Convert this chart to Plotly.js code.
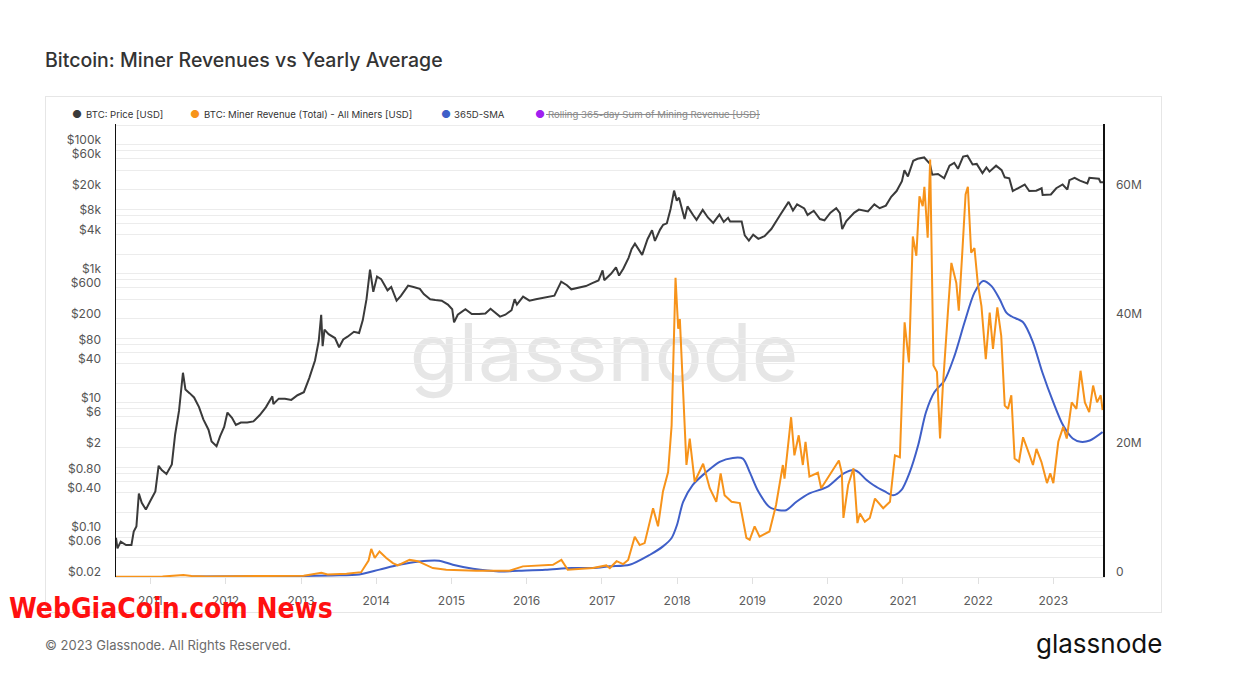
<!DOCTYPE html>
<html><head><meta charset="utf-8">
<script src="https://cdn.plot.ly/plotly-3.0.1.min.js"></script>
<style>
html,body{margin:0;padding:0;background:#fff;}
#wrap{position:relative;width:1238px;height:689px;overflow:hidden;background:#fff;}
#box{position:absolute;left:45px;top:96px;width:1117px;height:517px;border:1px solid #e6e6e6;box-sizing:border-box;}
#wm{position:absolute;left:604px;top:352px;transform:translate(-50%,-50%);font-family:Inter,'Open Sans',sans-serif;font-size:80px;color:#e6e6e6;line-height:1;white-space:nowrap;}
#chart{position:absolute;left:0;top:0;width:1238px;height:689px;}
</style></head>
<body><div id="wrap"><div id="box"></div><div id="wm">glassnode</div><div id="chart"></div></div>
<script>
// ---- BTC price (USD, log axis) ----
const priceDates = ['2010-07-18','2010-07-25','2010-08-10','2010-09-05','2010-10-01','2010-10-12','2010-10-25','2010-11-06','2010-11-20','2010-12-10',
'2011-01-01','2011-01-25','2011-02-10','2011-02-25','2011-03-20','2011-04-15','2011-05-01','2011-05-20','2011-06-08','2011-06-20','2011-07-10','2011-08-01','2011-08-25','2011-09-15','2011-10-10','2011-10-25','2011-11-18','2011-12-05','2011-12-25',
'2012-01-10','2012-02-01','2012-02-20','2012-03-15','2012-04-15','2012-05-15','2012-06-15','2012-07-15','2012-08-15','2012-08-20','2012-09-15','2012-10-15','2012-11-15','2012-12-15',
'2013-01-15','2013-02-10','2013-03-10','2013-03-28','2013-04-09','2013-04-16','2013-04-25','2013-05-15','2013-06-15','2013-07-05','2013-07-25','2013-08-15','2013-09-15','2013-10-10','2013-10-28','2013-11-15','2013-12-02','2013-12-18',
'2014-01-05','2014-01-25','2014-02-25','2014-03-15','2014-04-10','2014-05-01','2014-06-05','2014-07-01','2014-08-01','2014-08-20','2014-09-20','2014-10-15','2014-11-15','2014-12-15',
'2015-01-05','2015-01-14','2015-02-01','2015-03-10','2015-04-10','2015-05-15','2015-06-15','2015-07-10','2015-08-25','2015-09-20','2015-10-20','2015-11-04','2015-11-15','2015-12-15',
'2016-01-15','2016-02-15','2016-03-15','2016-04-15','2016-05-15','2016-06-17','2016-07-15','2016-08-05','2016-09-15','2016-10-15','2016-11-15','2016-12-15',
'2017-01-04','2017-01-12','2017-02-15','2017-03-10','2017-03-25','2017-04-15','2017-05-10','2017-05-25','2017-06-10','2017-07-15','2017-08-10','2017-09-01','2017-09-15','2017-10-10','2017-10-25','2017-11-12','2017-11-30','2017-12-17','2017-12-30',
'2018-01-10','2018-02-06','2018-02-20','2018-03-20','2018-04-05','2018-05-05','2018-05-30','2018-06-25','2018-07-25','2018-08-15','2018-09-05','2018-09-15','2018-10-15','2018-11-10','2018-11-25','2018-12-15',
'2019-01-05','2019-01-30','2019-03-01','2019-04-03','2019-05-15','2019-06-26','2019-07-17','2019-08-06','2019-09-10','2019-09-26','2019-10-26','2019-11-25','2019-12-17',
'2020-01-15','2020-02-12','2020-03-01','2020-03-12','2020-04-01','2020-05-10','2020-06-01','2020-07-15','2020-08-15','2020-09-10','2020-10-10','2020-11-05','2020-12-01','2020-12-27',
'2021-01-08','2021-01-25','2021-02-20','2021-03-13','2021-04-14','2021-05-12','2021-05-23','2021-06-20','2021-07-20','2021-08-15','2021-09-07','2021-09-25','2021-10-20','2021-11-10','2021-12-05','2021-12-25',
'2022-01-22','2022-02-10','2022-02-25','2022-03-29','2022-04-25','2022-05-10','2022-06-01','2022-06-18','2022-07-10','2022-08-15','2022-09-06','2022-10-10','2022-11-05','2022-11-10','2022-12-20',
'2023-01-15','2023-02-15','2023-03-10','2023-03-20','2023-04-14','2023-05-10','2023-06-15','2023-06-25','2023-07-15','2023-08-10','2023-08-18','2023-08-30'];
const priceUSD = [0.08,0.055,0.07,0.062,0.062,0.10,0.12,0.39,0.28,0.22,
0.30,0.42,1.05,0.90,0.78,1.1,3.2,7.5,29,16,14,12,8.5,5.5,3.8,2.5,2.1,3.0,4.2,
7.0,5.8,4.5,4.9,4.9,5.1,6.4,8.5,12.5,9.5,11.5,11.5,11,13,
14.5,24,45,90,230,75,135,115,100,72,95,105,125,120,190,400,1150,520,
900,820,550,620,380,450,650,620,580,480,400,390,380,330,
280,175,230,280,235,235,240,285,215,230,270,400,330,440,
380,400,415,430,455,750,660,570,610,640,710,780,
1120,790,1000,1250,930,1200,1750,2400,2900,1950,3400,4700,3200,4800,5700,6000,10000,19300,13500,
15000,7000,11000,8000,6800,9700,7400,6100,8200,6300,7300,6400,6400,6400,3900,3250,
4000,3450,3800,4900,8000,12900,9500,11800,10200,8100,9400,7000,6700,
8800,10300,8600,4900,6500,8800,9800,9200,11800,10300,11300,15500,19000,27000,
40000,32000,56000,60000,63000,50000,34000,35000,30000,47000,52000,42000,65000,67000,49000,50000,
36000,44000,38000,47000,40000,31000,30000,19000,21000,24000,19000,19200,21000,16500,16800,
21000,24000,20000,28000,30500,27500,25000,30500,30300,29500,26000,26000];

// ---- Miner revenue, total, all miners (USD millions) ----
const revDates = ['2010-07-18','2011-03-01','2011-06-10','2011-07-20','2011-10-01','2012-06-01','2012-11-01','2013-01-15','2013-04-10','2013-05-10','2013-08-10','2013-10-20','2013-11-25','2013-12-08','2013-12-25',
'2014-01-17','2014-02-19','2014-03-23','2014-04-16','2014-06-12','2014-07-22','2014-09-01','2014-10-03','2014-12-07','2015-05-01','2015-10-10','2015-12-14','2016-05-08','2016-06-18','2016-07-19','2016-11-18',
'2017-01-22','2017-02-08','2017-03-13','2017-04-14','2017-05-08','2017-06-09','2017-07-03','2017-07-27','2017-09-06','2017-09-30','2017-10-24','2017-11-18','2017-12-05','2017-12-24',
'2018-01-06','2018-01-14','2018-01-30','2018-02-15','2018-03-03','2018-03-27','2018-05-07','2018-06-08','2018-07-10','2018-07-31','2018-08-19','2018-09-22','2018-11-01','2018-12-03','2018-12-19',
'2019-01-12','2019-02-05','2019-03-25','2019-04-26','2019-05-29','2019-06-06','2019-07-08','2019-07-24','2019-08-14','2019-09-03','2019-09-16','2019-10-05','2019-11-15','2019-12-01',
'2020-01-20','2020-02-25','2020-03-10','2020-03-18','2020-04-10','2020-05-06','2020-05-25','2020-06-06','2020-06-30','2020-07-24','2020-08-18','2020-09-27','2020-10-30','2020-11-23','2020-12-17',
'2021-01-09','2021-01-30','2021-02-18','2021-03-07','2021-03-22','2021-04-07','2021-04-15','2021-05-01','2021-05-13','2021-05-29','2021-06-15','2021-06-30','2021-07-13','2021-08-07','2021-08-24','2021-09-17','2021-09-29','2021-10-16','2021-11-01','2021-11-12','2021-11-28','2021-12-14','2021-12-30',
'2022-01-17','2022-02-07','2022-02-26','2022-03-14','2022-04-04','2022-04-23','2022-05-10','2022-05-26','2022-06-11','2022-06-27','2022-07-18','2022-08-07','2022-09-08','2022-09-24','2022-10-11','2022-11-04','2022-12-01','2022-12-17',
'2023-01-01','2023-01-25','2023-02-18','2023-03-07','2023-03-31','2023-04-23','2023-05-13','2023-06-03','2023-06-24','2023-07-13','2023-08-01','2023-08-19','2023-08-28'];
const revMillions = [0.01,0.03,0.25,0.12,0.05,0.06,0.1,0.15,0.6,0.35,0.45,0.7,2.5,4.3,2.9,
3.9,2.9,2.1,1.75,2.6,2.4,1.75,1.34,1.08,0.93,0.93,1.6,1.85,2.6,1.08,1.34,
1.75,1.34,2.4,1.96,2.6,6.2,4.9,5.2,10.6,7.8,13.2,16.2,23.4,46.3,
38.4,39.9,28.6,17.3,21.4,14.7,17.5,13.7,11.6,16.0,12.6,11.6,11.4,6.0,5.7,
7.8,6.2,7.0,11.1,17.3,15.2,24.7,18.8,21.9,17.3,20.9,15.5,16.1,13.7,
16.1,18.0,16.1,9.1,14.2,16.8,8.3,9.8,8.5,9.1,12.1,10.6,11.6,18.8,18.5,
39.4,33.2,52.7,49.7,58.9,57.4,60.4,52.5,64.6,32.7,31.7,21.4,29.1,40.9,48.6,45.5,41.2,50.2,59.2,60.4,50.2,50.9,45.5,
41.9,33.7,40.9,35.3,41.7,37.3,26.5,26.0,28.1,18.3,17.8,21.6,18.8,17.3,19.8,17.8,14.5,16.0,
14.5,20.9,23.2,21.4,27.0,26.0,31.9,27.0,25.5,29.6,27.0,28.1,25.8];

// ---- 365D-SMA of miner revenue (USD millions) ----
const smaDates = ['2011-07-18','2012-06-01','2013-01-01','2013-06-01','2013-10-11','2014-01-17','2014-04-22','2014-07-30','2014-11-02','2015-01-08','2015-04-16','2015-08-20','2015-11-24','2016-04-01','2016-08-07','2016-11-18',
'2017-02-08','2017-05-15','2017-08-22','2017-10-24','2017-12-05','2017-12-31','2018-01-30','2018-03-17','2018-05-22','2018-07-26','2018-09-28','2018-11-16','2018-12-19',
'2019-01-30','2019-03-25','2019-05-10','2019-06-14','2019-08-03','2019-10-05','2019-12-30','2020-03-20','2020-05-13','2020-06-06','2020-07-07','2020-08-10','2020-10-05','2020-11-14','2020-12-24',
'2021-02-03','2021-03-16','2021-04-23','2021-06-03','2021-07-22','2021-09-08','2021-10-27','2021-12-14','2022-01-25','2022-03-07','2022-04-15','2022-05-18','2022-06-13','2022-08-07','2022-09-24','2022-11-08',
'2023-01-01','2023-02-18','2023-04-05','2023-05-13','2023-06-27','2023-08-28'];
const smaMillions = [0.03,0.07,0.1,0.2,0.35,1.1,1.85,2.36,2.47,1.85,1.23,0.82,0.93,1.08,1.34,1.34,
1.6,1.85,3.4,4.7,6.0,8.0,11.6,14.2,16.2,17.8,18.4,18.3,16.2,
13.2,10.8,10.3,10.3,11.6,12.9,13.9,16.0,16.5,16.0,15.0,14.2,13.2,12.6,13.4,
16.2,20.4,25.5,28.6,30.4,34.2,39.4,44.0,45.8,45.0,43.0,40.9,40.3,39.4,36.3,31.7,
27.0,23.4,21.4,20.9,21.1,22.4];

// ---- Axis ticks ----
const priceGridVals = [0.02,0.04,0.06,0.08,0.1,0.2,0.4,0.6,0.8,1,2,4,6,8,10,20,40,60,80,100,200,400,600,800,1000,2000,4000,6000,8000,10000,20000,40000,60000,80000,100000,200000];
const priceGridText = ['$0.02','','$0.06','','$0.10','','$0.40','','$0.80','','$2','','$6','','$10','','$40','','$80','','$200','','$600','','$1k','','$4k','','$8k','','$20k','','$60k','','$100k',''];
const revTickVals = [0,20,40,60];
const revTickText = ['0','20M','40M','60M'];
const yearTickVals = ['2011-01-01','2012-01-01','2013-01-01','2014-01-01','2015-01-01','2016-01-01','2017-01-01','2018-01-01','2019-01-01','2020-01-01','2021-01-01','2022-01-01','2023-01-01'];
const yearTickText = ['2011','2012','2013','2014','2015','2016','2017','2018','2019','2020','2021','2022','2023'];

// ---- Legend ----
const legendNames = ['BTC: Price [USD]','BTC: Miner Revenue (Total) - All Miners [USD]','365D-SMA','Rolling 365-day Sum of Mining Revenue [USD]'];
const legendColors = ['#3a3a3a','#f7931a','#3f5fc8','#a020f0'];

const L = 116, R = 1103, T = 124, B = 577;
const PX = x => (x - L) / (R - L);
const PY = y => (B - y) / (B - T);
const FONT = 'Inter, "Open Sans", sans-serif';

const traces = [
  {x: priceDates, y: priceUSD, type: 'scatter', mode: 'lines', name: legendNames[0], yaxis: 'y',
   line: {color: legendColors[0], width: 2}, hoverinfo: 'skip'},
  {x: smaDates, y: smaMillions, type: 'scatter', mode: 'lines', name: legendNames[2], yaxis: 'y2',
   line: {color: legendColors[2], width: 2, shape: 'spline', smoothing: 0.8}, hoverinfo: 'skip'},
  {x: revDates, y: revMillions, type: 'scatter', mode: 'lines', name: legendNames[1], yaxis: 'y2',
   line: {color: legendColors[1], width: 2}, hoverinfo: 'skip'}
];

const legX = [[77, 84], [195, 202], [446, 452], [540, 546]];
const annotations = [];
legendNames.forEach((n, i) => {
  annotations.push({xref: 'paper', yref: 'paper', x: PX(legX[i][0]), y: PY(114), xanchor: 'center', yanchor: 'middle',
    text: '●', showarrow: false, font: {family: FONT, size: 11, color: legendColors[i]}});
  annotations.push({xref: 'paper', yref: 'paper', x: PX(legX[i][1]), y: PY(114), xanchor: 'left', yanchor: 'middle',
    text: n, showarrow: false, font: {family: FONT, size: 9.6, color: i === 3 ? '#8a8a8a' : '#333'}});
});
annotations.push({xref: 'paper', yref: 'paper', x: PX(43), y: PY(60), xanchor: 'left', yanchor: 'middle',
  text: 'Bitcoin: Miner Revenues vs Yearly Average', showarrow: false, font: {family: FONT, size: 19.5, color: '#333', weight: 500}});
annotations.push({xref: 'paper', yref: 'paper', x: PX(43), y: PY(645), xanchor: 'left', yanchor: 'middle',
  text: '© 2023 Glassnode. All Rights Reserved.', showarrow: false, font: {family: FONT, size: 13, color: '#6b6b6b'}});
annotations.push({xref: 'paper', yref: 'paper', x: PX(1164), y: PY(643), xanchor: 'right', yanchor: 'middle',
  text: 'glassnode', showarrow: false, font: {family: FONT, size: 26, color: '#111'}});
annotations.push({xref: 'paper', yref: 'paper', x: PX(7), y: PY(608), xanchor: 'left', yanchor: 'middle',
  text: '<b>WebGiaCoin.com News</b>', showarrow: false, font: {family: '"Liberation Sans Narrow", "DejaVu Sans Condensed", sans-serif', size: 28, color: '#ff1010'}});

const layout = {
  width: 1238, height: 689,
  margin: {l: L, r: 1238 - R, t: T, b: 689 - B, pad: 0},
  paper_bgcolor: 'rgba(0,0,0,0)', plot_bgcolor: 'rgba(0,0,0,0)',
  showlegend: false,
  font: {family: FONT, color: '#555'},
  xaxis: {type: 'date', range: ['2010-07-18', '2023-08-30'], tickmode: 'array', tickvals: yearTickVals, ticktext: yearTickText,
    showgrid: false, zeroline: false, showline: true, linecolor: '#e6e6e6', linewidth: 1,
    ticks: 'outside', ticklen: 6, tickcolor: '#e0e0e0', ticklabelstandoff: 7, tickfont: {family: FONT, size: 12, color: '#5c5c5c'}},
  yaxis: {type: 'log', range: [Math.log10(0.02) - 0.3 / 64.6, Math.log10(0.02) + 453.3 / 64.6], tickmode: 'array',
    tickvals: priceGridVals, ticktext: priceGridText, showgrid: true, gridcolor: '#ececec', gridwidth: 1, zeroline: false,
    showline: true, linecolor: '#111', linewidth: 1.5, ticks: '', ticklabelshift: -5, ticklabelstandoff: 11,
    tickfont: {family: FONT, size: 12, color: '#555'}},
  yaxis2: {overlaying: 'y', side: 'right', range: [-0.3 / 6.465, 453.3 / 6.465], tickmode: 'array', tickvals: revTickVals, ticktext: revTickText,
    showgrid: false, zeroline: false, showline: true, linecolor: '#111', linewidth: 1.5, ticks: '', ticklabelshift: -5, ticklabelstandoff: 9,
    tickfont: {family: FONT, size: 12, color: '#555'}},
  annotations: annotations,
  shapes: [{type: 'line', xref: 'paper', yref: 'paper', x0: PX(546), x1: PX(760), y0: PY(114.5), y1: PY(114.5), line: {color: '#8a8a8a', width: 1}}]
};

Plotly.newPlot('chart', traces, layout, {staticPlot: true, displayModeBar: false});
</script>
</body></html>
